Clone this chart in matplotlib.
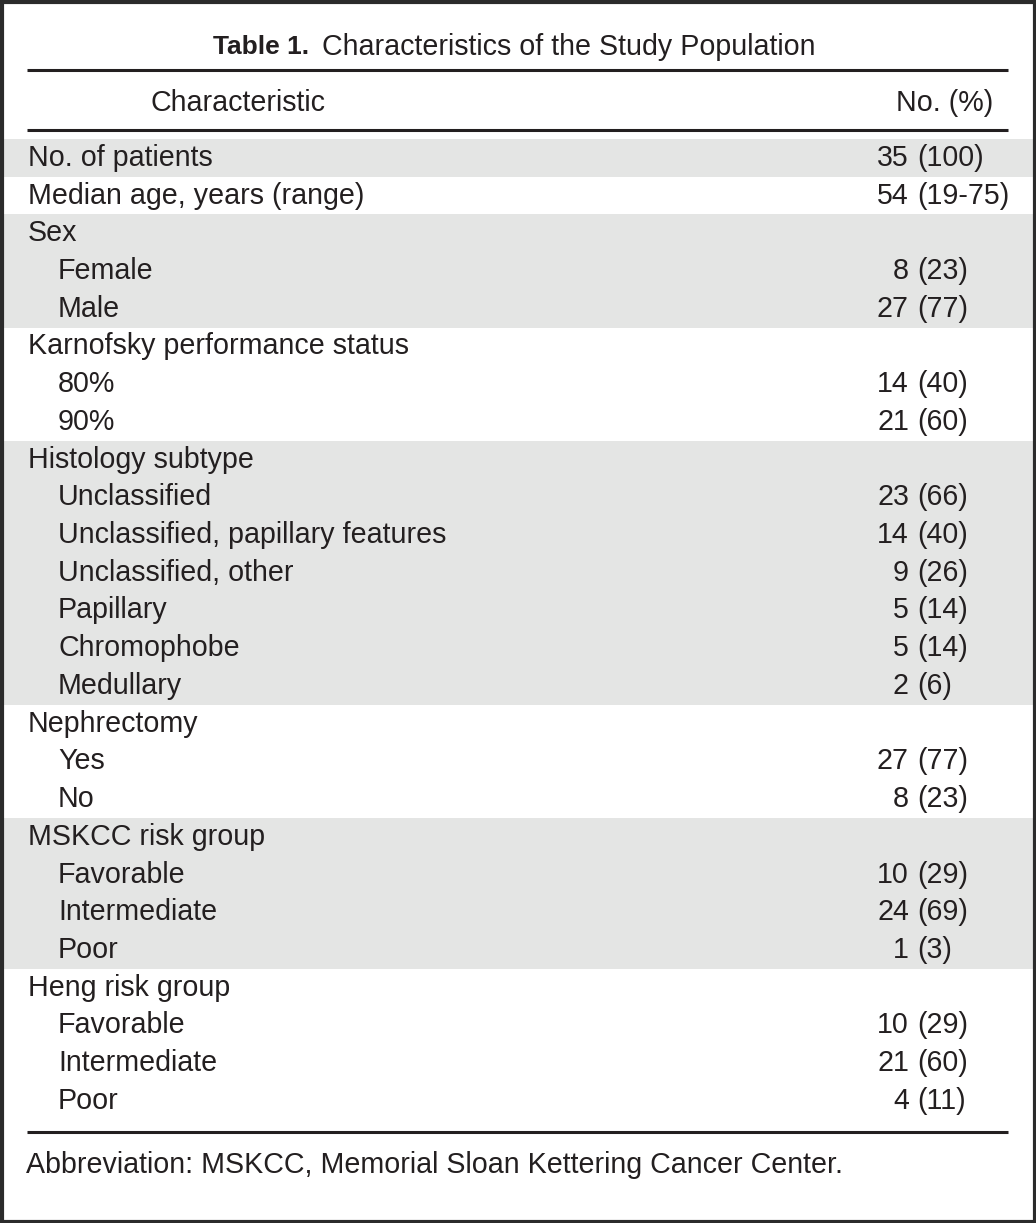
import matplotlib.pyplot as plt
from matplotlib.patches import Rectangle

plt.rcParams['font.family'] = ['Liberation Sans', 'DejaVu Sans']

W, H = 1036, 1223

title_bold = "Table 1."
title_rest = "Characteristics of the Study Population"
header = ["Characteristic", "No. (%)"]
footnote = "Abbreviation: MSKCC, Memorial Sloan Kettering Cancer Center."

labels = ["No. of patients", "Median age, years (range)",
          "Sex", "Female", "Male",
          "Karnofsky performance status", "80%", "90%",
          "Histology subtype", "Unclassified", "Unclassified, papillary features",
          "Unclassified, other", "Papillary", "Chromophobe", "Medullary",
          "Nephrectomy", "Yes", "No",
          "MSKCC risk group", "Favorable", "Intermediate", "Poor",
          "Heng risk group", "Favorable", "Intermediate", "Poor"]
indent = [0, 0, 0, 1, 1, 0, 1, 1, 0, 1, 1, 1, 1, 1, 1, 0, 1, 1, 0, 1, 1, 1, 0, 1, 1, 1]
counts = ["35", "54", "", "8", "27", "", "14", "21", "", "23", "14", "9", "5", "5", "2",
          "", "27", "8", "", "10", "24", "1", "", "10", "21", "4"]
pcts = ["(100)", "(19-75)", "", "(23)", "(77)", "", "(40)", "(60)", "", "(66)", "(40)",
        "(26)", "(14)", "(14)", "(6)", "", "(77)", "(23)", "", "(29)", "(69)", "(3)",
        "", "(29)", "(60)", "(11)"]
# shaded row groups (start, stop)
shaded = [(0, 1), (2, 5), (8, 15), (18, 22)]

txt = '#231f20'
gray = '#e4e5e4'
fs = 20.6

fig = plt.figure(figsize=(W / 100, H / 100), dpi=100)
ax = fig.add_axes([0, 0, 1, 1])
ax.set_xlim(0, W)
ax.set_ylim(H, 0)
ax.axis('off')

top0 = 139
rh = 37.72

for a, b in shaded:
    ax.add_patch(Rectangle((0, top0 + a * rh), W, (b - a) * rh, color=gray, lw=0))

# title
ax.text(309, 47, title_bold, fontsize=19, fontweight='bold', color=txt, va='center', ha='right')
ax.text(322, 47, title_rest, fontsize=fs, color=txt, va='center')

# rules
for yl in [70, 130, 1132]:
    ax.plot([27, 1008], [yl, yl], color=txt, lw=2.2, solid_capstyle='butt')

ax.text(238, 103, header[0], fontsize=fs, color=txt, va='center', ha='center')
ax.text(993, 103, header[1], fontsize=fs, color=txt, va='center', ha='right')

for i, lab in enumerate(labels):
    y = top0 + (i + 0.5) * rh
    ax.text(28 + 30 * indent[i], y, lab, fontsize=fs, color=txt, va='center')
    if counts[i]:
        ax.text(909, y, counts[i], fontsize=fs, color=txt, va='center', ha='right')
        ax.text(917, y, pcts[i], fontsize=fs, color=txt, va='center', ha='left')

ax.text(26, 1165, footnote, fontsize=fs, color=txt, va='center')

# frame
ax.add_patch(Rectangle((1.5, 1.5), W - 3, H - 3, fill=False, ec='#2b2b2b', lw=3))

fig.savefig('out.png', dpi=100)
